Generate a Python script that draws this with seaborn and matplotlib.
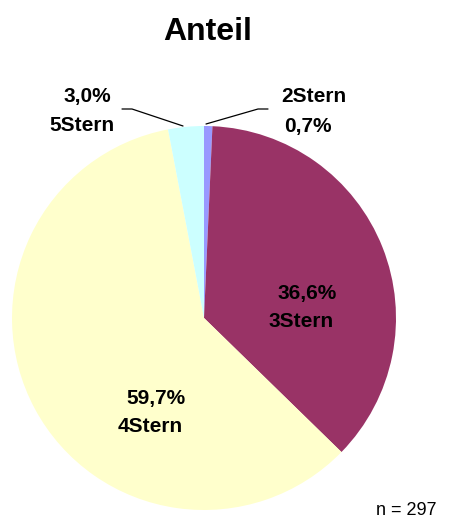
import matplotlib
matplotlib.use("Agg")
import matplotlib.pyplot as plt
import seaborn as sns

categories = ["2Stern", "3Stern", "4Stern", "5Stern"]
shares = [0.7, 36.6, 59.7, 3.0]
colors = ["#9999FF", "#993366", "#FFFFCC", "#CCFFFF"]
title = "Anteil"
n_text = "n = 297"

sns.set_theme(style="white")
plt.rcParams["font.family"] = ["Liberation Sans", "DejaVu Sans"]

W, H = 450, 526
fig = plt.figure(figsize=(W / 100, H / 100), dpi=100)
ax = fig.add_axes([0, 0, 1, 1])
ax.set_xlim(0, W)
ax.set_ylim(0, H)
ax.set_aspect("equal")
ax.axis("off")

cx, cy, r = 204, H - 318, 192
ax.pie(shares, colors=colors, startangle=90, counterclock=False,
       center=(cx, cy), radius=r, wedgeprops=dict(linewidth=0))
ax.set_xlim(0, W)
ax.set_ylim(0, H)

def fmt(v):
    return f"{v:.1f}".replace(".", ",") + "%"

lab_kw = dict(fontsize=15, fontweight="bold", ha="center", va="baseline", color="black")
# inside labels
ax.text(307.5, H - 299, fmt(shares[1]), **lab_kw)
ax.text(301, H - 327, categories[1], **lab_kw)
ax.text(155.5, H - 404, fmt(shares[2]), **lab_kw)
ax.text(150, H - 432, categories[2], **lab_kw)
# outside labels
ax.text(87, H - 102, fmt(shares[3]), **lab_kw)
ax.text(82, H - 131, categories[3], **lab_kw)
ax.text(313.5, H - 102, categories[0], **lab_kw)
ax.text(307.5, H - 132, fmt(shares[0]), **lab_kw)

# leader lines
ax.plot([122, 132, 183], [H - 109, H - 109, H - 126], color="black", lw=0.9)
ax.plot([206, 258, 268], [H - 124, H - 109, H - 109], color="black", lw=0.9)

ax.text(207.5, H - 40, title, fontsize=23, fontweight="bold", ha="center",
        va="baseline", color="black")
ax.text(406, H - 515, n_text, fontsize=13, ha="center", va="baseline", color="black")

fig.savefig("out.png", dpi=100)
